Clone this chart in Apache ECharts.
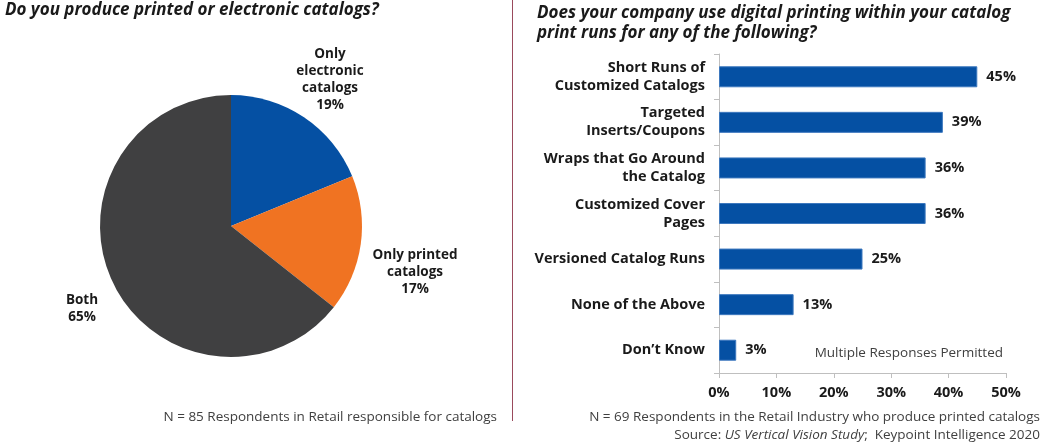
<!DOCTYPE html>
<html>
<head>
<meta charset="utf-8">
<script src="https://cdn.jsdelivr.net/npm/echarts@6/dist/echarts.min.js"></script>
<style>
  html, body { margin: 0; padding: 0; background: #ffffff; }
  #chart { width: 1043px; height: 444px; }
</style>
</head>
<body>
<div id="chart"></div>
<script>
// Catalog format split (pie)
const pieNames = ['Only\nelectronic\ncatalogs', 'Only printed\ncatalogs', 'Both'];
const pieValues = [19, 17, 65];
const pieColors = ['#0550A3', '#F07322', '#404041'];

// Digital printing uses (bar)
const barCategories = [
  'Short Runs of\nCustomized Catalogs',
  'Targeted\nInserts/Coupons',
  'Wraps that Go Around\nthe Catalog',
  'Customized Cover\nPages',
  'Versioned Catalog Runs',
  'None of the Above',
  'Don\u2019t Know'
];
const barValues = [45, 39, 36, 36, 25, 13, 3];
const axisTicks = [0, 10, 20, 30, 40, 50];

// where each pie label sits
const pieLabelPos = [[330, 80], [415, 272], [82, 309]];

const FONT = '"Open Sans", "DejaVu Sans", sans-serif';
const TEXT = '#1a1a1a';
const NOTE = '#404040';

const chart = echarts.init(document.getElementById('chart'), null, { renderer: 'canvas' });

chart.setOption({
  backgroundColor: '#ffffff',
  animation: false,
  title: [
    {
      text: 'Do you produce printed or electronic catalogs?',
      left: 5, top: 2, padding: 0,
      textStyle: { fontFamily: FONT, fontSize: 17, fontWeight: 'bold', fontStyle: 'italic', color: TEXT }
    },
    {
      text: 'Does your company use digital printing within your catalog\nprint runs for any of the following?',
      left: 537, top: 3, padding: 0,
      textStyle: { fontFamily: FONT, fontSize: 17, fontWeight: 'bold', fontStyle: 'italic', color: TEXT, lineHeight: 20 }
    },
    {
      text: 'N = 85 Respondents in Retail responsible for catalogs',
      right: 546, top: 410, padding: 0,
      textStyle: { fontFamily: FONT, fontSize: 13.5, fontWeight: 'normal', color: NOTE }
    },
    {
      text: 'N = 69 Respondents in the Retail Industry who produce printed catalogs',
      right: 3, top: 410, padding: 0,
      textStyle: { fontFamily: FONT, fontSize: 13.5, fontWeight: 'normal', color: NOTE }
    },
    {
      text: 'Source: {i|US Vertical Vision Study};  Keypoint Intelligence 2020',
      right: 3, top: 428, padding: 0,
      textStyle: {
        fontFamily: FONT, fontSize: 13.5, fontWeight: 'normal', color: NOTE,
        rich: { i: { fontFamily: FONT, fontSize: 13.5, fontStyle: 'italic', color: NOTE } }
      }
    }
  ],
  graphic: [
    {
      type: 'line',
      shape: { x1: 512.5, y1: 0, x2: 512.5, y2: 421 },
      style: { stroke: '#9A4A5C', lineWidth: 1 }
    },
    {
      type: 'text',
      right: 40, top: 346,
      style: { text: 'Multiple Responses Permitted', font: '13.5px ' + FONT, fill: NOTE }
    }
  ],
  grid: { left: 719, right: 37, top: 54, bottom: 71, containLabel: false },
  xAxis: {
    type: 'value',
    min: 0, max: 50, interval: 10,
    axisLine: { show: true, lineStyle: { color: '#BFBFBF' } },
    axisTick: { show: true, length: 5, lineStyle: { color: '#BFBFBF' } },
    splitLine: { show: false },
    axisLabel: {
      margin: 12,
      formatter: v => axisTicks.includes(v) ? v + '%' : '',
      fontFamily: FONT, fontSize: 14.5, fontWeight: 'bold', color: TEXT
    }
  },
  yAxis: {
    type: 'category',
    inverse: true,
    data: barCategories,
    axisLine: { show: true, lineStyle: { color: '#BFBFBF' } },
    axisTick: { show: true, length: 5, lineStyle: { color: '#BFBFBF' } },
    axisLabel: {
      margin: 14,
      fontFamily: FONT, fontSize: 14.5, fontWeight: 'bold', color: TEXT,
      lineHeight: 18, align: 'right'
    }
  },
  series: [
    {
      type: 'pie',
      center: [231, 226],
      radius: 131,
      startAngle: 90,
      clockwise: true,
      data: pieNames.map((n, i) => ({ name: n, value: pieValues[i], itemStyle: { color: pieColors[i] } })),
      label: {
        show: true,
        position: 'outside',
        formatter: p => p.name + '\n' + p.value + '%',
        fontFamily: FONT, fontSize: 13.5, fontWeight: 'bold', color: TEXT,
        lineHeight: 17, align: 'center'
      },
      labelLine: { show: false },
      labelLayout: p => ({
        x: pieLabelPos[p.dataIndex][0],
        y: pieLabelPos[p.dataIndex][1],
        align: 'center',
        verticalAlign: 'middle'
      }),
      emphasis: { disabled: true }
    },
    {
      type: 'bar',
      data: barValues,
      barWidth: 21,
      itemStyle: { color: '#0550A3', borderColor: '#3D78BE', borderWidth: 1 },
      label: {
        show: true,
        position: 'right',
        distance: 9,
        formatter: p => p.value + '%',
        fontFamily: FONT, fontSize: 14.5, fontWeight: 'bold', color: TEXT
      },
      emphasis: { disabled: true }
    }
  ]
});
</script>
</body>
</html>
